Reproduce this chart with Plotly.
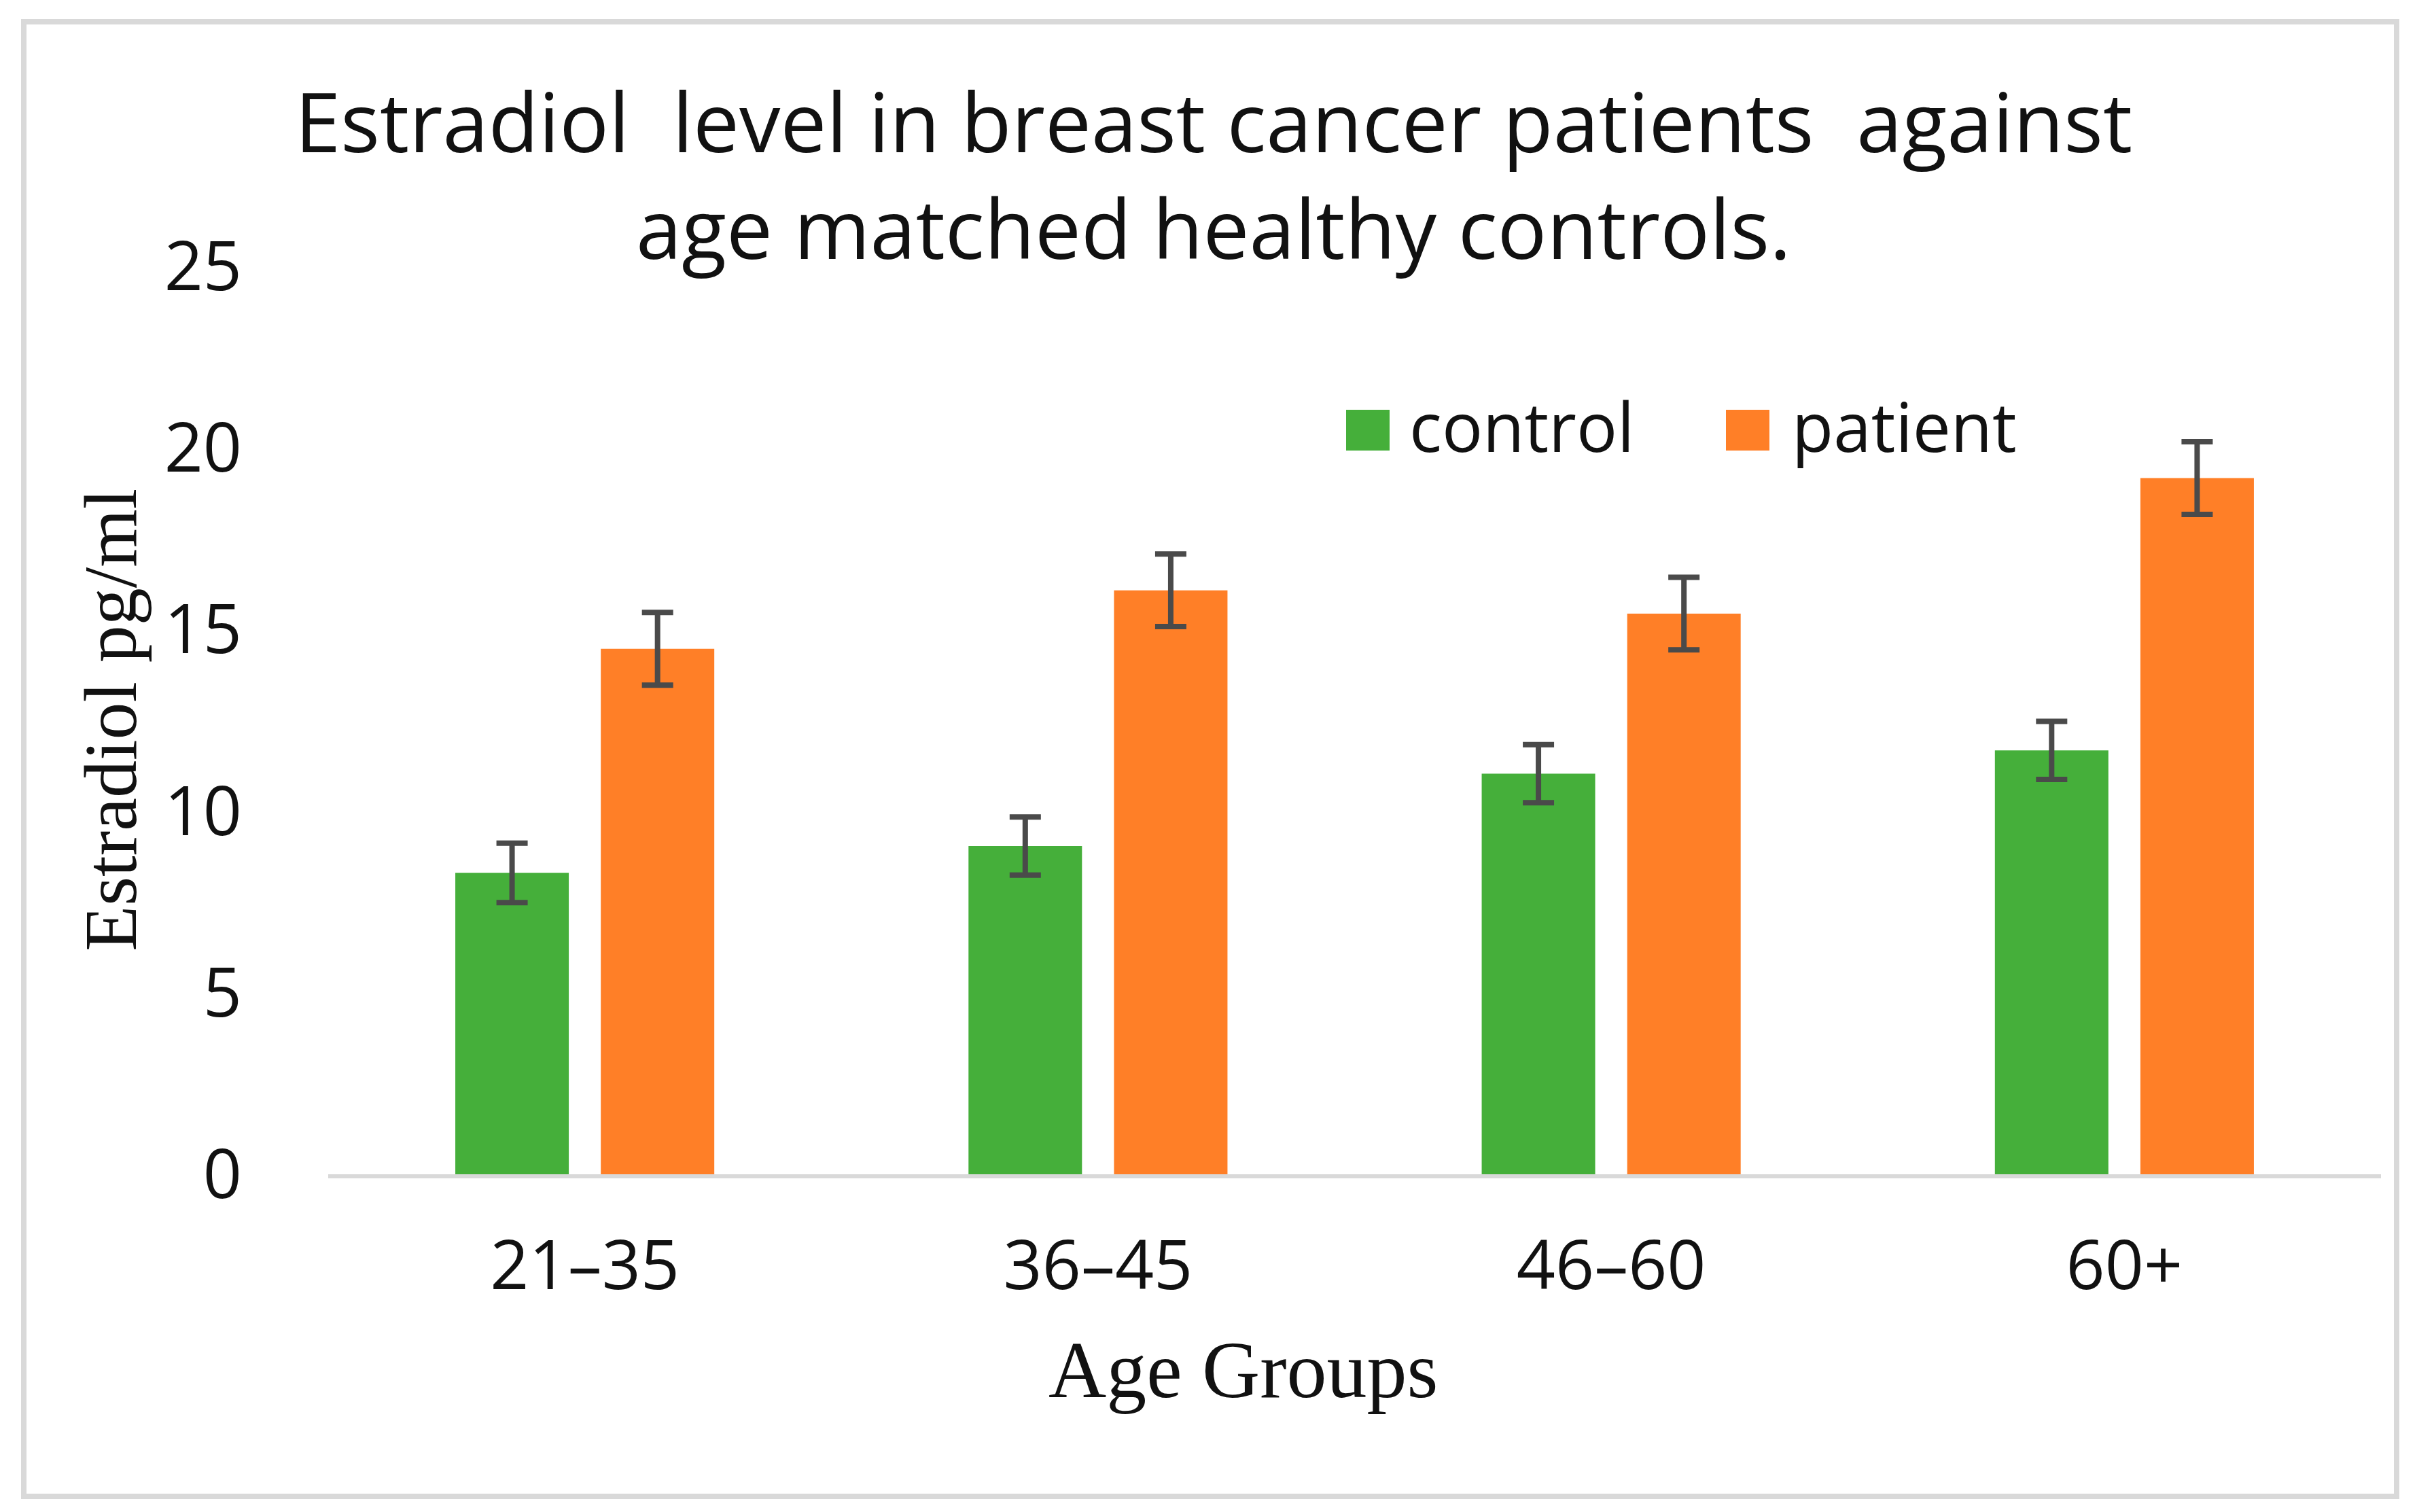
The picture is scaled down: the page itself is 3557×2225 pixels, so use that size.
import plotly.graph_objects as go

# ---- data ----
age_groups = ["21–35", "36–45", "46–60", "60+"]
control_vals = [8.3, 9.04, 11.03, 11.67]
control_err = [0.82, 0.8, 0.8, 0.8]
patient_vals = [14.47, 16.08, 15.44, 19.17]
patient_err = [1.0, 1.0, 1.0, 1.0]
series_names = ["control", "patient"]
y_ticks = [0, 5, 10, 15, 20, 25]

GREEN = "#45AF3A"
ORANGE = "#FF7F27"

W, H = 3557, 2225
OFF = 8  # default page body margin
WF, HF = W - 2 * OFF, H - 2 * OFF
L, R, T, B = 483, 3504, 392, 1728  # plot area in page pixels


def px(x):
    return (x - L) / (R - L)


def py(y):
    return (B - y) / (B - T)


fig = go.Figure()
fig.add_trace(go.Bar(
    x=age_groups, y=control_vals, name=series_names[0],
    marker=dict(color=GREEN, line=dict(width=0)),
    error_y=dict(type="data", array=control_err, visible=True,
                 color="#4a4a4a", thickness=8, width=23),
    showlegend=False,
))
fig.add_trace(go.Bar(
    x=age_groups, y=patient_vals, name=series_names[1],
    marker=dict(color=ORANGE, line=dict(width=0)),
    error_y=dict(type="data", array=patient_err, visible=True,
                 color="#4a4a4a", thickness=8, width=23),
    showlegend=False,
))

tick_font = dict(family="Open Sans", size=100, color="#111111")

fig.update_layout(
    width=WF, height=HF, autosize=False,
    paper_bgcolor="white", plot_bgcolor="white",
    margin=dict(l=L - OFF, r=WF - (R - OFF), t=T - OFF, b=HF - (B - OFF)),
    barmode="group", bargap=0.433, bargroupgap=0.22,
    showlegend=False,
    xaxis=dict(
        showline=True, linecolor="#d9d9d9", linewidth=6,
        showgrid=False, zeroline=False,
        ticks="outside", ticklen=43, tickcolor="rgba(0,0,0,0)",
        tickfont=tick_font,
    ),
    yaxis=dict(
        range=[0, 25], tickvals=y_ticks,
        showline=False, showgrid=False, zeroline=False,
        ticks="outside", ticklen=106, tickcolor="rgba(0,0,0,0)",
        tickfont=tick_font,
    ),
)

# outer frame
fig.add_shape(type="rect", xref="paper", yref="paper",
              x0=px(35), x1=px(3527), y0=py(32), y1=py(2202),
              line=dict(color="#d9d9d9", width=8), fillcolor="rgba(0,0,0,0)",
              layer="below")

# title
fig.add_annotation(
    text="Estradiol  level in breast cancer patients  against<br>age matched healthy controls.",
    xref="paper", yref="paper", x=px(1786), y=py(256),
    xanchor="center", yanchor="middle", showarrow=False,
    font=dict(family="Open Sans", size=121, color="#111111"),
)

# axis titles
fig.add_annotation(
    text="Estradiol pg/ml", xref="paper", yref="paper",
    x=px(163), y=0.5, textangle=-90, showarrow=False,
    xanchor="center", yanchor="middle",
    font=dict(family="Liberation Serif", size=110, color="#111111"),
)
fig.add_annotation(
    text="Age Groups", xref="paper", yref="paper",
    x=px(1830), y=py(2016), showarrow=False,
    xanchor="center", yanchor="middle",
    font=dict(family="Liberation Serif", size=118, color="#111111"),
)

# custom legend
leg_font = dict(family="Open Sans", size=100, color="#111111")
for (x0, x1, tx, name, col) in [(1981, 2045, 2072, series_names[0], GREEN),
                                (2540, 2604, 2635, series_names[1], ORANGE)]:
    fig.add_shape(type="rect", xref="paper", yref="paper",
                  x0=px(x0), x1=px(x1), y0=py(663), y1=py(603),
                  line=dict(width=0), fillcolor=col)
    fig.add_annotation(text=name, xref="paper", yref="paper",
                       x=px(tx), y=py(626), xanchor="left", yanchor="middle",
                       showarrow=False, font=leg_font)

fig.write_html("out.html", config={"displayModeBar": False})
